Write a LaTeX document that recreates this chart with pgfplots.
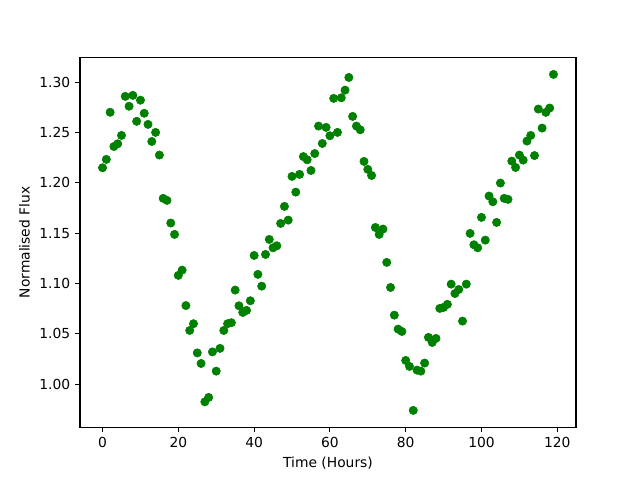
\documentclass[border=0pt]{standalone}
\usepackage{pgfplots}
\pgfplotsset{compat=1.18}
\usepackage{fontspec}
\setmainfont{DejaVu Sans}
\definecolor{mplgreen}{RGB}{0,128,0}
\pgfplotstableread{
x y
0 1.2149
1 1.2232
2 1.2700
3 1.2360
4 1.2387
5 1.2470
6 1.2858
7 1.2760
8 1.2868
9 1.2610
10 1.2820
11 1.2690
12 1.2580
13 1.2410
14 1.2500
15 1.2275
16 1.1845
17 1.1825
18 1.1600
19 1.1487
20 1.1080
21 1.1132
22 1.0780
23 1.0533
24 1.0600
25 1.0310
26 1.0205
27 0.9824
28 0.9868
29 1.0320
30 1.0129
31 1.0355
32 1.0533
33 1.0600
34 1.0610
35 1.0934
36 1.0778
37 1.0712
38 1.0732
39 1.0828
40 1.1278
41 1.1090
42 1.0973
43 1.1288
44 1.1437
45 1.1354
46 1.1374
47 1.1596
48 1.1765
49 1.1629
50 1.2063
51 1.1907
52 1.2083
53 1.2260
54 1.2228
55 1.2122
56 1.2290
57 1.2563
58 1.2390
59 1.2550
60 1.2467
61 1.2838
62 1.2500
63 1.2844
64 1.2920
65 1.3046
66 1.2659
67 1.2563
68 1.2526
69 1.2212
70 1.2133
71 1.2072
72 1.1556
73 1.1487
74 1.1540
75 1.1209
76 1.0960
77 1.0685
78 1.0546
79 1.0523
80 1.0235
81 1.0176
82 0.9739
83 1.0139
84 1.0129
85 1.0209
86 1.0464
87 1.0414
88 1.0454
89 1.0752
90 1.0762
91 1.0792
92 1.0993
93 1.0900
94 1.0940
95 1.0626
96 1.0993
97 1.1497
98 1.1384
99 1.1354
100 1.1656
101 1.1430
102 1.1868
103 1.1811
104 1.1606
105 1.1997
106 1.1845
107 1.1835
108 1.2215
109 1.2152
110 1.2275
111 1.2225
112 1.2414
113 1.2470
114 1.2270
115 1.2732
116 1.2543
117 1.2699
118 1.2742
119 1.3076
}\fluxdata
\begin{document}
\begin{tikzpicture}[x=1bp,y=1bp]
\path[use as bounding box] (0,0) rectangle (460.8,345.6);
\begin{axis}[
  at={(57.6bp,38.016bp)}, anchor=south west,
  scale only axis, width=357.12bp, height=266.11bp,
  xmin=-5.95, xmax=124.95, ymin=0.9572, ymax=1.3243,
  xtick={0,20,40,60,80,100,120},
  ytick={1.00,1.05,1.10,1.15,1.20,1.25,1.30},
  yticklabel style={/pgf/number format/fixed, /pgf/number format/fixed zerofill, /pgf/number format/precision=2},
  /pgf/number format/assume math mode=true,
  tick align=outside, tick pos=left, major tick length=3.5bp,
  axis line style={line width=0.8bp},
  every tick/.style={black, line width=0.8bp},
  tick label style={font=\fontsize{10}{12}\selectfont},
  label style={font=\fontsize{10}{12}\selectfont},
  xlabel={Time (Hours)}, ylabel={Normalised Flux},
]
\addplot[only marks, mark=*, mark size=3bp, draw=mplgreen, fill=mplgreen, mark options={draw=mplgreen, fill=mplgreen}] table[x=x, y=y] {\fluxdata};
\end{axis}
\end{tikzpicture}
\end{document}
